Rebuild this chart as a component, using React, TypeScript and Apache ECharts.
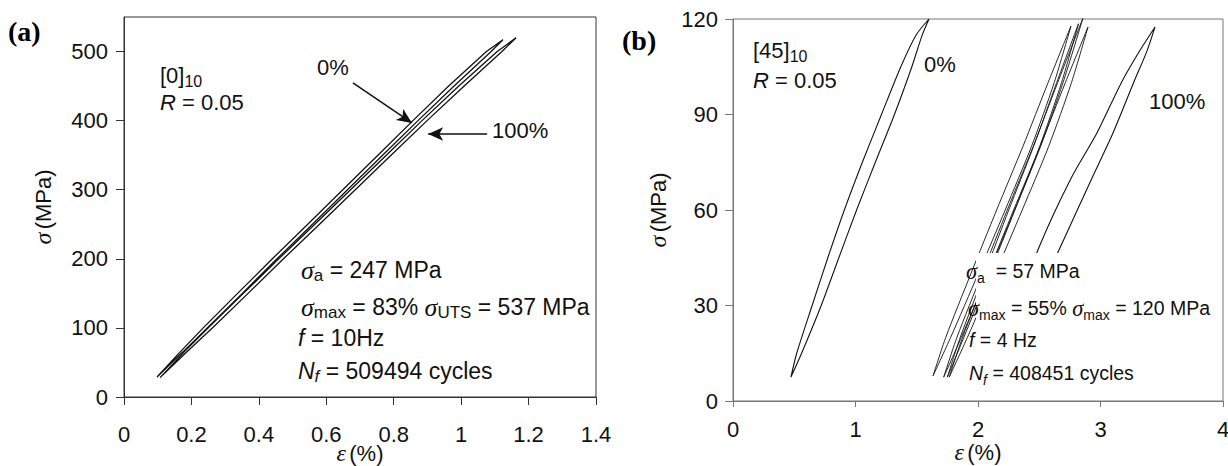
import React, { useEffect, useRef } from "react";
import * as echarts from "echarts";

const SANS = '"Liberation Sans", Arial, sans-serif';
const SERIF = '"Liberation Serif", "Times New Roman", serif';

// ---------- Panel (a): [0]10, strain (%) vs stress (MPa) ----------
const aXTicks = [0, 0.2, 0.4, 0.6, 0.8, 1, 1.2, 1.4];
const aYTicks = [0, 100, 200, 300, 400, 500];

// 0% loop (first cycles)
const a0Stress = [29, 65, 100, 150, 200, 250, 300, 350, 400, 450, 500, 517];
const a0Load = [0.098, 0.166, 0.235, 0.337, 0.44, 0.545, 0.649, 0.753, 0.857, 0.963, 1.075, 1.124];
const a0Unload = [0.098, 0.174, 0.247, 0.351, 0.454, 0.559, 0.663, 0.767, 0.872, 0.979, 1.089, 1.124];
// 100% loop (last cycles)
const a100Stress = [28, 65, 100, 150, 200, 250, 300, 350, 400, 450, 500, 520];
const a100Load = [0.107, 0.178, 0.25, 0.354, 0.459, 0.566, 0.672, 0.778, 0.884, 0.993, 1.107, 1.163];
const a100Unload = [0.107, 0.186, 0.262, 0.368, 0.473, 0.58, 0.686, 0.792, 0.899, 1.009, 1.121, 1.163];

// arrows [from, to] in data coordinates
const aArrow0 = [[0.679, 454.5], [0.854, 396.6]];
const aArrow100 = [[1.077, 380.7], [0.902, 380.7]];

// ---------- Panel (b): [45]10 ----------
const bXTicks = [0, 1, 2, 3, 4];
const bYTicks = [0, 30, 60, 90, 120];

const b0Stress = [7.5, 15, 30, 45, 60, 75, 90, 105, 115, 120];
const b0Left = [0.473, 0.52, 0.646, 0.774, 0.909, 1.056, 1.212, 1.37, 1.495, 1.6];
const b0Right = [0.473, 0.56, 0.72, 0.864, 1.009, 1.162, 1.318, 1.46, 1.545, 1.6];

const bAStress = [7.9, 20, 40, 60, 80, 100, 117.8];
const bALeft = [1.633, 1.737, 1.942, 2.152, 2.367, 2.572, 2.759];
const bARight = [1.633, 1.777, 2.002, 2.222, 2.437, 2.622, 2.759];

const bBStress = [7.5, 20, 40, 60, 80, 100, 120.3];
const bBLeft = [1.72, 1.828, 2.033, 2.239, 2.451, 2.65, 2.857];
const bBRight = [1.72, 1.864, 2.083, 2.299, 2.511, 2.694, 2.857];

const bCStress = [7.5, 20, 40, 60, 80, 100, 118.5];
const bCLeft = [1.75, 1.855, 2.053, 2.251, 2.454, 2.642, 2.82];
const bCRight = [1.75, 1.885, 2.093, 2.301, 2.504, 2.682, 2.82];

const bDStress = [7.5, 20, 40, 60, 80, 100, 117.5];
const bDLeft = [1.765, 1.874, 2.08, 2.291, 2.507, 2.713, 2.898];
const bDRight = [1.765, 1.914, 2.14, 2.361, 2.577, 2.763, 2.898];

const b100Stress = [7.5, 30, 49, 70, 84.2, 100, 110, 117.5];
const b100Left = [2.2, 2.33, 2.506, 2.76, 2.971, 3.17, 3.32, 3.445];
const b100Right = [2.2, 2.45, 2.68, 2.93, 3.102, 3.27, 3.38, 3.445];

function loop(stress: number[], up: number[], down: number[]) {
  const pts: number[][] = [];
  for (let i = 0; i < stress.length; i++) pts.push([up[i], stress[i]]);
  for (let i = stress.length - 1; i >= 0; i--) pts.push([down[i], stress[i]]);
  return pts;
}

const lineSeries = (name: string, data: number[][], idx: number, extra: any = {}) => ({
  type: "line",
  name,
  xAxisIndex: idx,
  yAxisIndex: idx,
  data,
  showSymbol: false,
  symbol: "none",
  smooth: false,
  lineStyle: { color: "#111", width: 1.3 },
  z: 2,
  ...extra,
});

const richBase = (size: number) => ({
  m: { fontSize: size, fontFamily: SANS, lineHeight: 28, verticalAlign: "middle", fill: "#111" },
  i: { fontSize: size, fontFamily: SANS, fontStyle: "italic", lineHeight: 28, verticalAlign: "middle", fill: "#111" },
  s: { fontSize: size + 3, fontFamily: SERIF, fontStyle: "italic", lineHeight: 28, verticalAlign: "middle", fill: "#111" },
  sub: { fontSize: Math.round(size * 0.72), fontFamily: SANS, lineHeight: 14, verticalAlign: "bottom", fill: "#111" },
  isub: { fontSize: Math.round(size * 0.72), fontFamily: SANS, fontStyle: "italic", lineHeight: 14, verticalAlign: "bottom", fill: "#111" },
});

const txt = (x: number, y: number, text: string, size: number, extraStyle: any = {}) => ({
  type: "text",
  x,
  y,
  z: 30,
  style: {
    text,
    rich: richBase(size),
    fontSize: size,
    fontFamily: SANS,
    fill: "#111",
    align: "left",
    verticalAlign: "middle",
    ...extraStyle,
  },
});

const axisBase = (color: string) => ({
  type: "value",
  splitLine: { show: false },
  axisLine: { show: true, onZero: false, lineStyle: { color, width: 1 } },
});

export default function App() {
  const ref = useRef<HTMLDivElement>(null);
  useEffect(() => {
    if (!ref.current) return;
    const chart = echarts.init(ref.current, undefined, { renderer: "svg" });
    const nameRich = {
      e: { fontFamily: SERIF, fontStyle: "italic", fontSize: 24, color: "#111", lineHeight: 22 },
      p: { fontFamily: SANS, fontSize: 22, color: "#111", lineHeight: 22 },
    };
    const bSmooth = { smooth: 0.25 };
    const option: any = {
      animation: false,
      grid: [
        { left: 124, top: 17, width: 472, height: 380, show: true, borderColor: "#333", borderWidth: 1, containLabel: false, outerBoundsMode: "none" },
        { left: 733, top: 19, width: 490, height: 382, show: true, borderColor: "#777", borderWidth: 1, containLabel: false, outerBoundsMode: "none" },
      ],
      xAxis: [
        {
          ...axisBase("#333"),
          gridIndex: 0,
          min: 0,
          max: 1.4,
          interval: 0.2,
          axisLabel: { fontSize: 22, color: "#111", fontFamily: SANS, margin: 26, customValues: aXTicks },
          axisTick: { show: true, length: 8, lineStyle: { color: "#333" }, customValues: aXTicks },
          name: "{e|ε} {p|(%)}",
          nameLocation: "middle",
          nameGap: 45,
          nameMoveOverlap: false,
          nameTextStyle: { rich: nameRich },
        },
        {
          ...axisBase("#777"),
          gridIndex: 1,
          min: 0,
          max: 4,
          interval: 1,
          axisLabel: { fontSize: 22, color: "#111", fontFamily: SANS, margin: 17, customValues: bXTicks },
          axisTick: { show: true, length: 6, lineStyle: { color: "#777" }, customValues: bXTicks },
          name: "{e|ε} {p|(%)}",
          nameLocation: "middle",
          nameGap: 40,
          nameMoveOverlap: false,
          nameTextStyle: { rich: nameRich },
        },
      ],
      yAxis: [
        {
          ...axisBase("#333"),
          gridIndex: 0,
          min: 0,
          max: 550,
          interval: 100,
          axisLabel: { fontSize: 22, color: "#111", fontFamily: SANS, margin: 16, customValues: aYTicks },
          axisTick: { show: true, length: 8, lineStyle: { color: "#333" }, customValues: aYTicks },
          name: "{e|σ} {p|(MPa)}",
          nameLocation: "middle",
          nameGap: 70,
          nameTextStyle: { rich: nameRich },
        },
        {
          ...axisBase("#777"),
          gridIndex: 1,
          min: 0,
          max: 120,
          interval: 30,
          axisLabel: { fontSize: 22, color: "#111", fontFamily: SANS, margin: 15, customValues: bYTicks },
          axisTick: { show: true, length: 8, lineStyle: { color: "#777" }, customValues: bYTicks },
          name: "{e|σ} {p|(MPa)}",
          nameLocation: "middle",
          nameGap: 64,
          nameTextStyle: { rich: nameRich },
        },
      ],
      series: [
        lineSeries("a 0%", loop(a0Stress, a0Load, a0Unload), 0, {
          markLine: {
            silent: true,
            symbol: ["none", "arrow"],
            symbolSize: [10, 15],
            label: { show: false },
            lineStyle: { color: "#111", width: 1.5, type: "solid" },
            data: [
              [{ coord: aArrow0[0] }, { coord: aArrow0[1] }],
              [{ coord: aArrow100[0] }, { coord: aArrow100[1] }],
            ],
          },
        }),
        lineSeries("a 100%", loop(a100Stress, a100Load, a100Unload), 0),
        lineSeries("b 0%", loop(b0Stress, b0Left, b0Right), 1, { ...bSmooth, lineStyle: { color: "#111", width: 1.1 } }),
        lineSeries("b A", loop(bAStress, bALeft, bARight), 1, { ...bSmooth, lineStyle: { color: "#111", width: 0.9 } }),
        lineSeries("b B", loop(bBStress, bBLeft, bBRight), 1, { ...bSmooth, lineStyle: { color: "#111", width: 0.9 } }),
        lineSeries("b C", loop(bCStress, bCLeft, bCRight), 1, { ...bSmooth, lineStyle: { color: "#111", width: 0.9 } }),
        lineSeries("b D", loop(bDStress, bDLeft, bDRight), 1, { ...bSmooth, lineStyle: { color: "#111", width: 0.9 } }),
        lineSeries("b 100%", loop(b100Stress, b100Left, b100Right), 1, { ...bSmooth, lineStyle: { color: "#111", width: 1.1 } }),
      ],
      graphic: [
        { type: "text", x: 8, y: 31, z: 30, style: { text: "(a)", fontFamily: SERIF, fontWeight: "bold", fontSize: 28, fill: "#000", verticalAlign: "middle" } },
        { type: "text", x: 622, y: 40, z: 30, style: { text: "(b)", fontFamily: SERIF, fontWeight: "bold", fontSize: 28, fill: "#000", verticalAlign: "middle" } },
        txt(160, 75, "{m|[0]}{sub|10}", 22),
        txt(160, 102, "{i|R}{m| = 0.05}", 22),
        txt(317, 67, "{m|0%}", 22),
        txt(492, 130, "{m|100%}", 22),
        txt(301, 270, "{s|σ}{sub|a}{m| = 247 MPa}", 23),
        txt(301, 307, "{s|σ}{sub|max}{m| = 83% }{s|σ}{sub|UTS}{m| = 537 MPa}", 23),
        txt(298, 338, "{i|f}{m| = 10Hz}", 23),
        txt(298, 371, "{i|N}{isub|f}{m| = 509494 cycles}", 23),
        txt(753, 50, "{m|[45]}{sub|10}", 22),
        txt(753, 80, "{i|R}{m| = 0.05}", 22),
        txt(924, 64, "{m|0%}", 22),
        txt(1149, 101, "{m|100%}", 22),
        { type: "rect", z: 20, shape: { x: 976, y: 253, width: 246, height: 147 }, style: { fill: "#fff" } },
        txt(966, 271, "{s|σ}{sub|a}{m|  = 57 MPa}", 19.5),
        txt(968, 308, "{s|σ}{sub|max}{m| = 55% }{s|σ}{sub|max}{m| = 120 MPa}", 19.5),
        txt(969, 340, "{i|f}{m| = 4 Hz}", 19.5),
        txt(969, 373, "{i|N}{isub|f}{m| = 408451 cycles}", 19.5),
      ],
    };
    chart.setOption(option);
    return () => chart.dispose();
  }, []);
  return (
    <div
      ref={ref}
      style={{ position: "fixed", left: 0, top: 0, width: 1228, height: 466, background: "#fff" }}
    />
  );
}
